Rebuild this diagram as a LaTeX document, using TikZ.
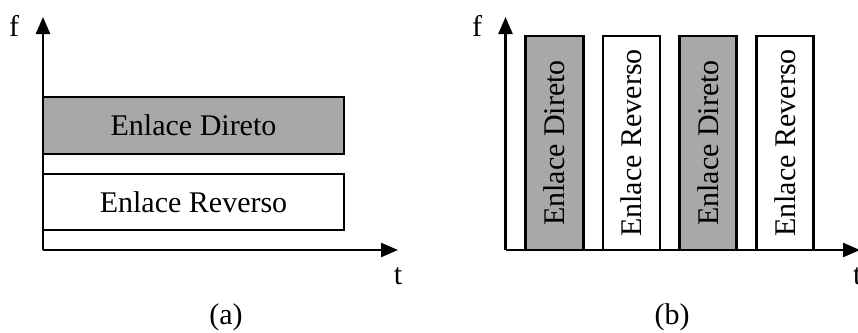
\documentclass[tikz,border=0pt]{standalone}
\usepackage{fontspec}
\setmainfont{Liberation Serif}
\usetikzlibrary{arrows.meta}
\definecolor{bandgray}{RGB}{168,168,168}
\begin{document}
\begin{tikzpicture}[x=1pt,y=-1pt,
  axis/.style={line width=2.4pt,-{Triangle[length=17pt,width=14pt]}},
  band/.style={draw,line width=2.8pt,inner sep=0pt,font=\fontsize{30}{35}\selectfont},
  dir/.style={band,fill=bandgray},
  rev/.style={band,fill=white},
  lbl/.style={inner sep=0pt,font=\fontsize{30}{35}\selectfont}]
\useasboundingbox (0,0) rectangle (858,332);
% panel (a)
\coordinate (oa) at (43,250);
\coordinate (fa) at (43,17);
\coordinate (ta) at (398,250);
\node[dir,minimum width=301pt,minimum height=57pt] (d1) at (193.5,125.5) {Enlace Direto};
\node[rev,minimum width=301pt,minimum height=56pt] (r1) at (193.5,202) {Enlace Reverso};
\draw[axis] (oa) -- (fa);
\draw[axis] (oa) -- (ta);
\node[lbl] (fla) at (14,26) {f};
\node[lbl] (tla) at (398,276) {t};
\node[lbl] (ca) at (226,317) {(a)};
% panel (b)
\coordinate (ob) at (505.5,250);
\coordinate (fb) at (505.5,17);
\coordinate (tb) at (860,250);
\node[dir,minimum width=214pt,minimum height=57.5pt,rotate=90] (d2) at (554.5,143) {Enlace Direto};
\node[rev,minimum width=214pt,minimum height=57pt,rotate=90] (r2) at (631.5,143) {Enlace Reverso};
\node[dir,minimum width=214pt,minimum height=57pt,rotate=90] (d3) at (708.3,143) {Enlace Direto};
\node[rev,minimum width=214pt,minimum height=57pt,rotate=90] (r3) at (785.3,143) {Enlace Reverso};
\draw[axis] (ob) -- (fb);
\draw[axis] (ob) -- (tb);
\node[lbl] (flb) at (477,26) {f};
\node[lbl,anchor=west] (tlb) at (853,276) {t};
\node[lbl] (cb) at (672,317) {(b)};
\end{tikzpicture}
\end{document}
